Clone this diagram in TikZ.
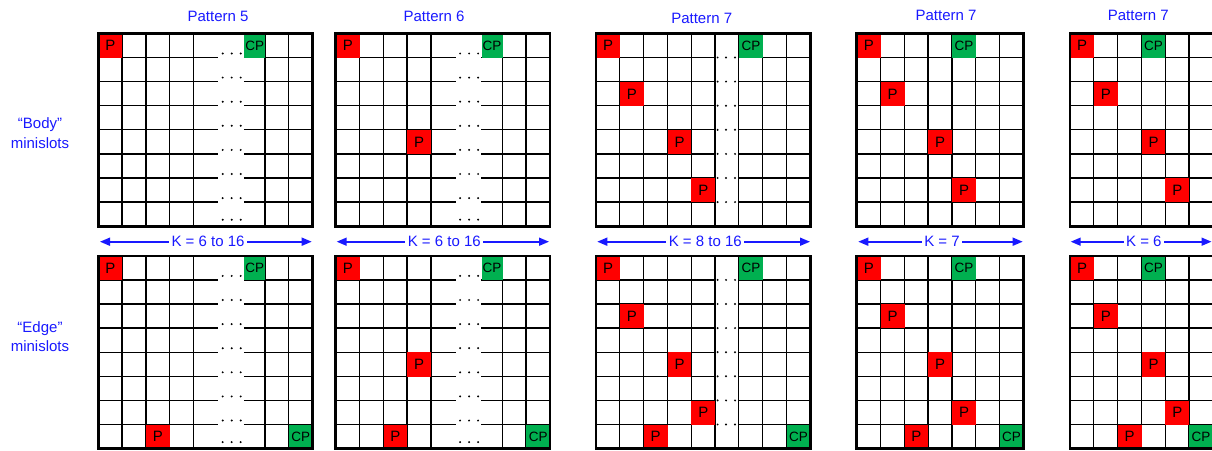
\documentclass[tikz,border=0pt]{standalone}
\usepackage{fontspec}
\setmainfont{Liberation Sans}
\usetikzlibrary{arrows.meta}
\definecolor{pred}{HTML}{FF0000}
\definecolor{cpgreen}{HTML}{00B050}
\definecolor{lblue}{RGB}{25,25,255}
\def\cw{23.8}
\def\rh{24.1}
\tikzset{
  gline/.style={line width=1.3pt, black},
  gouter/.style={line width=2.6pt, black},
  pcell/.style={fill=pred, inner sep=0pt, minimum width=23.8pt, minimum height=24.1pt,
    anchor=north west, font=\fontsize{15}{15}\selectfont, text=black},
  cpcell/.style={pcell, fill=cpgreen, font=\fontsize{13.5}{13.5}\selectfont},
  ttl/.style={text=lblue, font=\fontsize{15}{18}\selectfont, inner sep=0pt},
  klabel/.style={ttl, fill=white, inner xsep=2.5pt, inner ysep=1pt},
  karrow/.style={lblue, line width=1.6pt, {Triangle[length=10pt,width=8pt]}-{Triangle[length=10pt,width=8pt]}},
}
% full grid: x0, y0, ncols
\newcommand\gridfull[3]{%
  \foreach \i in {1,...,#3}{\draw[gline] ({#1+\i*\cw},{#2}) -- ++(0,{8*\rh});}
  \foreach \j in {1,...,7}{\draw[gline] ({#1},{#2+\j*\rh}) -- ++({#3*\cw},0);}
}
% grid with an empty dotted column (col 5)
\newcommand\gridcol[2]{%
  \foreach \i in {1,...,8}{\draw[gline] ({#1+\i*\cw},{#2}) -- ++(0,{8*\rh});}
  \foreach \j in {1,...,7}{%
    \draw[gline] ({#1},{#2+\j*\rh}) -- ++({5*\cw},0);
    \draw[gline] ({#1+6*\cw},{#2+\j*\rh}) -- ++({3*\cw},0);
    \foreach \d in {2.6,11,20}{\fill ({#1+5*\cw+\d},{#2+\j*\rh}) circle (1.1pt);}
  }
}
% grid with broken lines and dots
\newcommand\gridbrk[2]{%
  \foreach \i in {1,2,3,4,7,8,9}{\draw[gline] ({#1+\i*\cw},{#2}) -- ++(0,{8*\rh});}
  \foreach \j in {1,...,7}{%
    \draw[gline] ({#1},{#2+\j*\rh}) -- ++(120,0);
    \draw[gline] ({#1+145.5},{#2+\j*\rh}) -- ({#1+9*\cw},{#2+\j*\rh});
  }
  \foreach \j in {1,...,8}{%
    \pgfmathsetmacro\dy{ifthenelse(\j==8,6.5,4)}
    \foreach \d in {124.4,133.4,142.4}{\fill ({#1+\d},{#2+\j*\rh-\dy}) circle (1.1pt);}
  }
}
\newcommand\gborder[3]{\draw[gouter] ({#1},{#2}) rectangle ++({#3*\cw},{8*\rh});}
% name, x0, y0, row, col
\newcommand\pcl[5]{\node[pcell] (#1) at ({#2+#5*\cw},{#3+#4*\rh}) {P};}
\newcommand\cpcl[5]{\node[cpcell] (#1) at ({#2+#5*\cw},{#3+#4*\rh}) {CP};}
\begin{document}
\begin{tikzpicture}[x=1pt,y=-1pt]
\useasboundingbox (0,0) rectangle (1212,450);
\fill[white] (0,0) rectangle (1212,450);
\def\ya{33.4}
\def\yb{255.8}

% titles
\node[ttl] (t1) at (218,16) {Pattern 5};
\node[ttl] (t2) at (434,16) {Pattern 6};
\node[ttl] (t3) at (701.7,18.5) {Pattern 7};
\node[ttl] (t4) at (946,15.5) {Pattern 7};
\node[ttl] (t5) at (1138.3,15.5) {Pattern 7};

% row labels
\node[ttl, anchor=base] (bodya) at (40,128.5) {“Body”};
\node[ttl, anchor=base] (bodyb) at (40,148) {minislots};
\node[ttl, anchor=base] (edgea) at (40,332) {“Edge”};
\node[ttl, anchor=base] (edgeb) at (40,351.5) {minislots};

% ---------- Grid 1 (Pattern 5) ----------
\gridbrk{98.3}{\ya}
\pcl{g1a1}{98.3}{\ya}{0}{0}
\node[cpcell, minimum width=20.9pt] (g1a2) at ({98.3+145.7},{\ya}) {CP};
\gborder{98.3}{\ya}{9}

\gridbrk{98.3}{\yb}
\pcl{g1b1}{98.3}{\yb}{0}{0}
\node[cpcell, minimum width=20.9pt] (g1b2) at ({98.3+145.7},{\yb}) {CP};
\pcl{g1b3}{98.3}{\yb}{7}{2}
\cpcl{g1b4}{98.3}{\yb}{7}{8}
\gborder{98.3}{\yb}{9}

% ---------- Grid 2 (Pattern 6) ----------
\gridbrk{335.7}{\ya}
\pcl{g2a1}{335.7}{\ya}{0}{0}
\node[cpcell, minimum width=20.9pt] (g2a2) at ({335.7+145.7},{\ya}) {CP};
\pcl{g2a3}{335.7}{\ya}{4}{3}
\gborder{335.7}{\ya}{9}

\gridbrk{335.7}{\yb}
\pcl{g2b1}{335.7}{\yb}{0}{0}
\node[cpcell, minimum width=20.9pt] (g2b2) at ({335.7+145.7},{\yb}) {CP};
\pcl{g2b3}{335.7}{\yb}{4}{3}
\pcl{g2b4}{335.7}{\yb}{7}{2}
\cpcl{g2b5}{335.7}{\yb}{7}{8}
\gborder{335.7}{\yb}{9}

% ---------- Grid 3 (Pattern 7, K = 8 to 16) ----------
\gridcol{596}{\ya}
\pcl{g3a1}{596}{\ya}{0}{0}
\cpcl{g3a2}{596}{\ya}{0}{6}
\pcl{g3a3}{596}{\ya}{2}{1}
\pcl{g3a4}{596}{\ya}{4}{3}
\pcl{g3a5}{596}{\ya}{6}{4}
\gborder{596}{\ya}{9}

\gridcol{596}{\yb}
\pcl{g3b1}{596}{\yb}{0}{0}
\cpcl{g3b2}{596}{\yb}{0}{6}
\pcl{g3b3}{596}{\yb}{2}{1}
\pcl{g3b4}{596}{\yb}{4}{3}
\pcl{g3b5}{596}{\yb}{6}{4}
\pcl{g3b6}{596}{\yb}{7}{2}
\cpcl{g3b7}{596}{\yb}{7}{8}
\gborder{596}{\yb}{9}

% ---------- Grid 4 (Pattern 7, K = 7) ----------
\gridfull{856.7}{\ya}{7}
\pcl{g4a1}{856.7}{\ya}{0}{0}
\cpcl{g4a2}{856.7}{\ya}{0}{4}
\pcl{g4a3}{856.7}{\ya}{2}{1}
\pcl{g4a4}{856.7}{\ya}{4}{3}
\pcl{g4a5}{856.7}{\ya}{6}{4}
\gborder{856.7}{\ya}{7}

\gridfull{856.7}{\yb}{7}
\pcl{g4b1}{856.7}{\yb}{0}{0}
\cpcl{g4b2}{856.7}{\yb}{0}{4}
\pcl{g4b3}{856.7}{\yb}{2}{1}
\pcl{g4b4}{856.7}{\yb}{4}{3}
\pcl{g4b5}{856.7}{\yb}{6}{4}
\pcl{g4b6}{856.7}{\yb}{7}{2}
\cpcl{g4b7}{856.7}{\yb}{7}{6}
\gborder{856.7}{\yb}{7}

% ---------- Grid 5 (Pattern 7, K = 6) ----------
\gridfull{1070}{\ya}{6}
\pcl{g5a1}{1070}{\ya}{0}{0}
\cpcl{g5a2}{1070}{\ya}{0}{3}
\pcl{g5a3}{1070}{\ya}{2}{1}
\pcl{g5a4}{1070}{\ya}{4}{3}
\pcl{g5a5}{1070}{\ya}{6}{4}
\gborder{1070}{\ya}{6}

\gridfull{1070}{\yb}{6}
\pcl{g5b1}{1070}{\yb}{0}{0}
\cpcl{g5b2}{1070}{\yb}{0}{3}
\pcl{g5b3}{1070}{\yb}{2}{1}
\pcl{g5b4}{1070}{\yb}{4}{3}
\pcl{g5b5}{1070}{\yb}{6}{4}
\pcl{g5b6}{1070}{\yb}{7}{2}
\cpcl{g5b7}{1070}{\yb}{7}{5}
\gborder{1070}{\yb}{6}

% ---------- K arrows ----------
\coordinate (k1l) at (100,241.7);   \coordinate (k1r) at (311.7,241.7);
\coordinate (k2l) at (336.7,241.7); \coordinate (k2r) at (549,241.7);
\coordinate (k3l) at (597.3,241.7); \coordinate (k3r) at (810,241.7);
\coordinate (k4l) at (858.3,241.7); \coordinate (k4r) at (1022.7,241.7);
\coordinate (k5l) at (1070.7,241.7);\coordinate (k5r) at (1211.5,241.7);
\draw[karrow] (k1l) -- (k1r);
\draw[karrow] (k2l) -- (k2r);
\draw[karrow] (k3l) -- (k3r);
\draw[karrow] (k4l) -- (k4r);
\draw[karrow] (k5l) -- (k5r);
\node[klabel] (k1) at (208,241) {K = 6 to 16};
\node[klabel] (k2) at (444.3,241) {K = 6 to 16};
\node[klabel] (k3) at (705.3,241) {K = 8 to 16};
\node[klabel] (k4) at (942,241) {K = 7};
\node[klabel] (k5) at (1143.8,241) {K = 6};
\end{tikzpicture}
\end{document}
